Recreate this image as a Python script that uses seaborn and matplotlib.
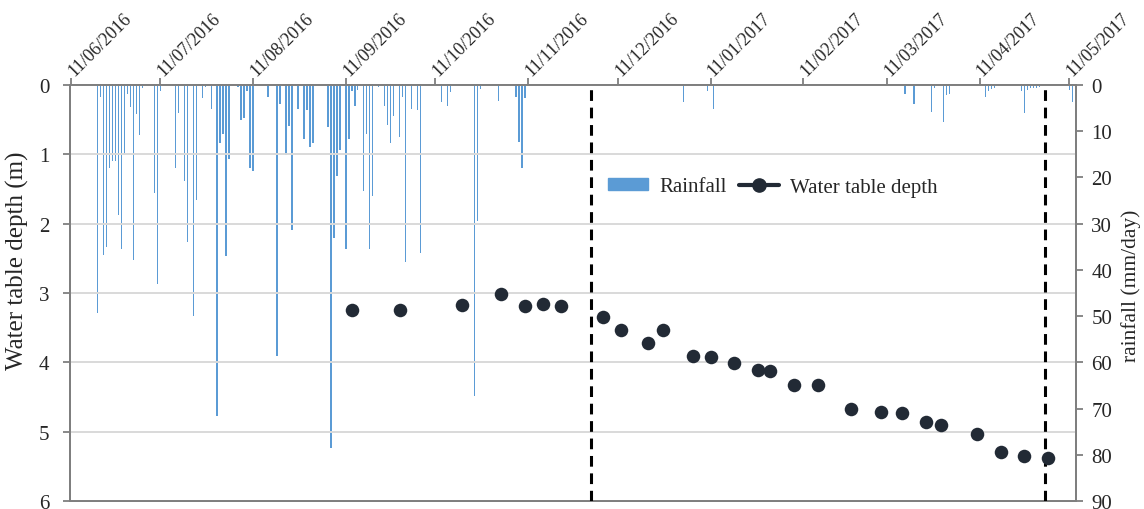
import matplotlib
matplotlib.use("Agg")
import matplotlib.pyplot as plt
import matplotlib.dates as mdates
from matplotlib.patches import Patch
from matplotlib.lines import Line2D
import pandas as pd
import seaborn as sns

# ---------------- data ----------------
rain_dates = [
    "2016-06-20", "2016-06-21", "2016-06-22", "2016-06-23", "2016-06-24", "2016-06-25",
    "2016-06-26", "2016-06-27", "2016-06-28", "2016-06-29", "2016-06-30", "2016-07-01",
    "2016-07-02", "2016-07-03", "2016-07-04", "2016-07-05", "2016-07-09", "2016-07-10",
    "2016-07-11", "2016-07-16", "2016-07-17", "2016-07-19", "2016-07-20", "2016-07-22",
    "2016-07-23", "2016-07-25", "2016-07-26", "2016-07-28", "2016-07-30", "2016-07-31",
    "2016-08-01", "2016-08-02", "2016-08-03", "2016-08-04", "2016-08-06", "2016-08-07",
    "2016-08-08", "2016-08-09", "2016-08-10", "2016-08-11", "2016-08-16", "2016-08-19",
    "2016-08-20", "2016-08-22", "2016-08-23", "2016-08-24", "2016-08-26", "2016-08-28",
    "2016-08-29", "2016-08-30", "2016-08-31", "2016-09-05", "2016-09-06", "2016-09-07",
    "2016-09-08", "2016-09-09", "2016-09-10", "2016-09-11", "2016-09-12", "2016-09-13",
    "2016-09-14", "2016-09-15", "2016-09-17", "2016-09-18", "2016-09-19", "2016-09-20",
    "2016-09-22", "2016-09-24", "2016-09-25", "2016-09-26", "2016-09-27", "2016-09-29",
    "2016-09-30", "2016-10-01", "2016-10-03", "2016-10-05", "2016-10-06", "2016-10-13",
    "2016-10-15", "2016-10-16", "2016-10-24", "2016-10-25", "2016-10-26", "2016-11-01",
    "2016-11-07", "2016-11-08", "2016-11-09", "2016-11-10", "2017-01-02", "2017-01-10",
    "2017-01-12", "2017-03-17", "2017-03-20", "2017-03-26", "2017-03-27", "2017-03-30",
    "2017-03-31", "2017-04-01", "2017-04-13", "2017-04-14", "2017-04-15", "2017-04-16",
    "2017-04-17", "2017-04-25", "2017-04-26", "2017-04-27", "2017-04-28", "2017-04-29",
    "2017-04-30", "2017-05-01", "2017-05-02", "2017-05-11", "2017-05-12", "2017-05-13",
]
rain_mm = [
    49.3, 2.5, 36.8, 35.0, 18.0, 16.5,
    16.5, 28.2, 35.5, 15.0, 2.0, 4.8,
    37.9, 6.3, 10.8, 0.7, 23.3, 43.1,
    1.4, 18.0, 6.1, 20.8, 34.0, 50.0,
    24.9, 2.9, 0.4, 5.2, 71.6, 12.6,
    10.6, 37.1, 16.0, 0.2, 0.4, 7.5,
    7.2, 1.4, 18.0, 18.5, 2.7, 58.6,
    4.2, 15.2, 8.8, 31.4, 5.2, 11.6,
    5.5, 13.4, 12.6, 9.0, 78.5, 33.2,
    19.7, 14.1, 0.3, 35.5, 11.7, 1.4,
    4.5, 1.0, 23.0, 10.6, 35.5, 24.1,
    0.4, 4.5, 8.6, 12.6, 6.8, 11.3,
    2.5, 38.4, 5.2, 5.5, 36.3, 3.6,
    4.5, 1.6, 67.3, 29.4, 0.9, 3.5,
    2.7, 12.4, 18.0, 2.9, 3.7, 1.2,
    5.3, 2.0, 4.1, 5.9, 0.7, 7.9,
    2.2, 1.9, 2.5, 1.2, 0.9, 0.6,
    0.3, 1.4, 6.1, 1.0, 0.7, 0.6,
    0.6, 0.4, 0.3, 1.1, 3.6, 2.5,
]

wt_dates = [
    "2016-09-13", "2016-09-29", "2016-10-20", "2016-11-02", "2016-11-10", "2016-11-16",
    "2016-11-22", "2016-12-06", "2016-12-12", "2016-12-21", "2016-12-26", "2017-01-05",
    "2017-01-11", "2017-01-19", "2017-01-27", "2017-01-31", "2017-02-08", "2017-02-16",
    "2017-02-27", "2017-03-09", "2017-03-16", "2017-03-24", "2017-03-29", "2017-04-10",
    "2017-04-18", "2017-04-26", "2017-05-04",
]
wt_depth = [
    3.24, 3.24, 3.17, 3.01, 3.19, 3.16,
    3.19, 3.35, 3.53, 3.72, 3.53, 3.91,
    3.92, 4.01, 4.11, 4.13, 4.33, 4.33,
    4.67, 4.72, 4.73, 4.86, 4.90, 5.03,
    5.29, 5.35, 5.38,
]

break_dates = ["2016-12-02", "2017-05-03"]

depth_ticks = [0, 1, 2, 3, 4, 5, 6]
rain_ticks = [0, 10, 20, 30, 40, 50, 60, 70, 80, 90]

# ---------------- style ----------------
sns.set_theme(style="white")
plt.rcParams["font.family"] = ["Liberation Serif", "DejaVu Serif"]

BAR_C = "#5B9BD5"
PT_C = "#222A35"
SPINE_C = "#7F7F7F"

rain_df = pd.DataFrame({"date": pd.to_datetime(rain_dates), "rain": rain_mm})
wt_df = pd.DataFrame({"date": pd.to_datetime(wt_dates), "depth": wt_depth})

fig = plt.figure(figsize=(11.44, 5.10), dpi=100)
W, H = 1144, 510
x0, x1, y0, y1 = 70, 1076, 86, 502
ax = fig.add_axes([x0 / W, 1 - y1 / H, (x1 - x0) / W, (y1 - y0) / H])
ax2 = ax.twinx()

# rainfall bars on the right axis
ax2.bar(rain_df["date"], rain_df["rain"], width=0.5, color=BAR_C, linewidth=0, zorder=2)
ax2.set_ylim(90, 0)
ax2.set_yticks(rain_ticks)
ax2.set_ylabel("rainfall (mm/day)", fontsize=15.5)
ax2.yaxis.set_label_coords(1.045, 0.52)

# water table points on the left axis (drawn above bars)
ax.set_zorder(ax2.get_zorder() + 1)
ax.patch.set_visible(False)
sns.scatterplot(data=wt_df, x="date", y="depth", ax=ax, color=PT_C, s=95,
                edgecolor=PT_C, linewidth=0, zorder=5, legend=False)
ax.set_ylim(6, 0)
ax.set_yticks(depth_ticks)
ax.set_ylabel("Water table depth (m)", fontsize=18)
ax.yaxis.set_label_coords(-0.041, 0.58)
ax.set_xlabel("")

for d in break_dates:
    ax.axvline(pd.Timestamp(d), color="black", lw=2.2, ls=(0, (3.5, 2.2)), zorder=4)

ax.set_xlim(pd.Timestamp("2016-06-10 18:00"), pd.Timestamp("2017-05-13 06:00"))
ax.xaxis.set_major_locator(mdates.DayLocator(bymonthday=11))
ax.xaxis.set_major_formatter(mdates.DateFormatter("%d/%m/%Y"))
ax.xaxis.tick_top()
for lab in ax.get_xticklabels():
    lab.set_rotation(45)
    lab.set_ha("left")
    lab.set_va("center")
    lab.set_rotation_mode("anchor")
    lab.set_fontsize(13)

ax.grid(axis="y", color="#D9D9D9", lw=1.4)
ax.grid(axis="x", visible=False)
ax2.grid(False)

for a in (ax, ax2):
    for s in a.spines.values():
        s.set_color(SPINE_C)
        s.set_linewidth(1.4)
ax.tick_params(axis="y", which="major", direction="out", length=5, width=1.3,
               color=SPINE_C, labelsize=15, pad=10, left=True)
ax.tick_params(axis="x", which="major", direction="out", length=5, width=1.3,
               color=SPINE_C, top=True, bottom=False, pad=4)
ax2.tick_params(axis="y", direction="out", length=5, width=1.3, color=SPINE_C,
                labelsize=15, pad=6, right=True)

handles = [
    Patch(color=BAR_C, label="Rainfall"),
    Line2D([], [], color=PT_C, lw=3, marker="o", ms=9.5, label="Water table depth"),
]
fig.legend(handles=handles, loc="center left", bbox_to_anchor=(608 / W, 1 - 188 / H),
           ncol=2, frameon=False, fontsize=15, handlelength=1.9, handleheight=0.45,
           columnspacing=0.6, handletextpad=0.55, borderpad=0, borderaxespad=0)

fig.savefig("out.png", dpi=100)
